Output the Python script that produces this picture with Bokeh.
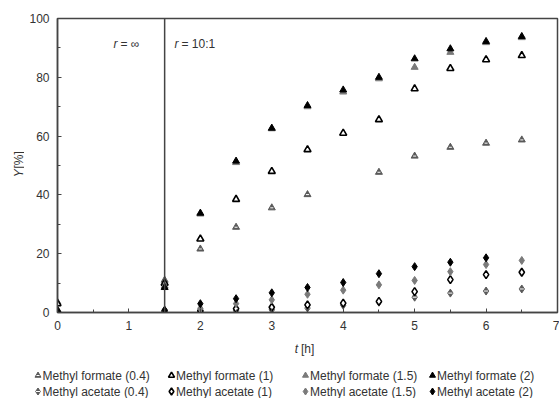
import math
from bokeh.plotting import figure
from bokeh.layouts import column, row
from bokeh.models import Label, Span, ColumnDataSource, FixedTicker, Range1d
from bokeh.embed import file_html
from bokeh.resources import INLINE

nan = float("nan")
t = [0, 1.5, 2, 2.5, 3, 3.5, 4, 4.5, 5, 5.5, 6, 6.5]

mf_04 = [3.5, 11.0, 21.6, 29.0, 35.6, 40.1, nan, 47.7, 53.2, 56.2, 57.6, 58.7]
mf_1 = [3.0, 10.0, 25.0, 38.5, 48.0, 55.4, 61.0, 65.6, 76.1, 83.0, 86.0, 87.4]
mf_15 = [1.0, 9.0, 33.5, 51.0, 62.5, 70.0, 75.0, 79.5, 83.4, 88.5, 91.8, 93.5]
mf_2 = [0.8, 8.5, 33.8, 51.5, 62.7, 70.4, 75.7, 80.0, 86.3, 89.7, 92.2, 93.9]

ma_04 = [0.0, 0.3, 0.4, 0.6, 0.9, 1.5, 2.5, 3.5, 5.2, 6.6, 7.3, 8.0]
ma_1 = [0.0, 0.5, 0.6, 1.3, 1.8, 2.6, 3.2, 3.8, 7.1, 11.2, 12.9, 13.7]
ma_15 = [0.0, 0.5, 1.4, 3.0, 4.3, 6.2, 7.6, 9.4, 10.9, 13.9, 16.3, 17.7]
ma_2 = [0.3, 0.8, 3.0, 4.7, 6.7, 8.5, 10.2, 13.2, 15.6, 17.1, 18.6, nan]

labels_mf = ["Methyl formate (0.4)", "Methyl formate (1)", "Methyl formate (1.5)", "Methyl formate (2)"]
labels_ma = ["Methyl acetate (0.4)", "Methyl acetate (1)", "Methyl acetate (1.5)", "Methyl acetate (2)"]

x_ticks = [0, 1, 2, 3, 4, 5, 6, 7]
y_ticks = [0, 20, 40, 60, 80, 100]
r_switch = 1.5

FONT = "Liberation Sans"
FS = "12px"
AX = "#444444"
TXT = "#333333"
GRAY = "#7a7a7a"
DGRAY = "#5a5a5a"

W, H = 559, 398
LEFT_W = 24
MAIN_H = 337

# ---------------- main plot ----------------
p = figure(width=W - LEFT_W, height=MAIN_H, x_range=(0, 7), y_range=(0, 100),
           output_backend="svg", toolbar_location=None,
           min_border_left=57 - LEFT_W, min_border_right=2, min_border_top=18,
           min_border_bottom=MAIN_H - 312)
p.grid.visible = False
p.outline_line_color = AX
p.outline_line_width = 1.5

for ax in (p.xaxis[0], p.yaxis[0]):
    ax.axis_line_color = AX
    ax.axis_line_width = 1.5
    ax.major_tick_in = 4
    ax.major_tick_out = 0
    ax.minor_tick_in = 3
    ax.minor_tick_out = 0
    ax.major_tick_line_color = AX
    ax.minor_tick_line_color = AX
    ax.major_label_text_font = FONT
    ax.major_label_text_font_size = FS
    ax.major_label_text_color = TXT
p.xaxis.ticker = FixedTicker(ticks=x_ticks, minor_ticks=[v + 0.5 for v in x_ticks[:-1]])
p.yaxis.ticker = FixedTicker(ticks=y_ticks, minor_ticks=[v + 10 for v in y_ticks[:-1]])
p.xaxis.major_label_standoff = 8
p.yaxis.major_label_standoff = 8

p.add_layout(Span(location=r_switch, dimension="height", line_color=AX, line_width=1.5))

def mk(marker, size, fill, line, lw=1.0):
    return dict(marker=marker, size=size, fill_color=fill, line_color=line, line_width=lw)

styles = {
    "d04": mk("diamond", 8, DGRAY, DGRAY),
    "d1": mk("diamond", 8, "white", "black", 1.6),
    "d15": mk("diamond", 8, GRAY, GRAY),
    "d2": mk("diamond", 8, "black", "black"),
    "t04": mk("triangle", 7, DGRAY, DGRAY),
    "t1": mk("triangle", 7, "white", "black", 1.6),
    "t15": mk("triangle", 7, GRAY, GRAY),
    "t2": mk("triangle", 7, "black", "black"),
}
dash_d = dict(marker="dash", size=4, line_color="white", line_width=1)
dash_t = dict(marker="dash", size=3, line_color="white", line_width=1)

def src(y):
    return ColumnDataSource(dict(x=t, y=y))

p.scatter("x", "y", source=src(ma_04), **styles["d04"])
p.scatter("x", "y", source=src(ma_04), **dash_d)
p.scatter("x", "y", source=src(ma_1), **styles["d1"])
p.scatter("x", "y", source=src(ma_15), **styles["d15"])
p.scatter("x", "y", source=src(ma_2), **styles["d2"])
p.scatter("x", "y", source=src(mf_04), **styles["t04"])
p.scatter("x", "y", source=src(mf_04), **dash_t)
p.scatter("x", "y", source=src(mf_1), **styles["t1"])
p.scatter("x", "y", source=src(mf_15), **styles["t15"])
p.scatter("x", "y", source=src(mf_2), **styles["t2"])

def px_to_x(px):
    return (px - 57) / (500 / 7)

def py_to_y(py):
    return (312 - py) / 2.94

def lab(fig, text, x, y, italic=False, align="left", angle=0.0, size=FS):
    fig.add_layout(Label(x=x, y=y, text=text, text_font=FONT, text_font_size=size,
                         text_color=TXT, text_align=align, text_baseline="middle",
                         text_font_style="italic" if italic else "normal", angle=angle))

lab(p, "r", px_to_x(113), py_to_y(43), italic=True)
lab(p, "= \u221e", px_to_x(120), py_to_y(43))
lab(p, "r", px_to_x(174), py_to_y(43), italic=True)
lab(p, "= 10:1", px_to_x(181), py_to_y(43))

def blank(width, height, xr, yr):
    f = figure(width=width, height=height, x_range=xr, y_range=yr,
               output_backend="svg", toolbar_location=None,
               min_border_left=0, min_border_right=0, min_border_top=0, min_border_bottom=0)
    f.axis.visible = False
    f.grid.visible = False
    f.outline_line_color = None
    return f

# ---------------- left strip: y axis title ----------------
left = blank(LEFT_W, MAIN_H, Range1d(0, LEFT_W), Range1d(MAIN_H, 0))
lab(left, "Y", 18, 182, italic=True, angle=math.pi / 2)
lab(left, "[%]", 18, 172, angle=math.pi / 2)

# ---------------- bottom strip: x title and legend ----------------
bot = blank(W, H - MAIN_H, Range1d(0, W), Range1d(H, MAIN_H))
lab(bot, "t", 297.5, 348, italic=True, align="right")
lab(bot, "[h]", 300.5, 348)

col_x = [37.5, 171, 305, 432]
row_y = [375, 391]
tri_keys = ["t04", "t1", "t15", "t2"]
dia_keys = ["d04", "d1", "d15", "d2"]
for i in range(4):
    st = dict(styles[tri_keys[i]]); st["size"] = 6
    sd = dict(styles[dia_keys[i]]); sd["size"] = 7
    bot.scatter([col_x[i]], [row_y[0]], **st)
    bot.scatter([col_x[i]], [row_y[1]], **sd)
    if i == 0:
        bot.scatter([col_x[i]], [row_y[0]], **dash_t)
        bot.scatter([col_x[i]], [row_y[1]], **dash_d)
    lab(bot, labels_mf[i], col_x[i] + 4.5, row_y[0])
    lab(bot, labels_ma[i], col_x[i] + 4.5, row_y[1])

layout = column(row(left, p, spacing=0), bot, spacing=0)
open("out.html", "w").write(file_html(layout, INLINE))
